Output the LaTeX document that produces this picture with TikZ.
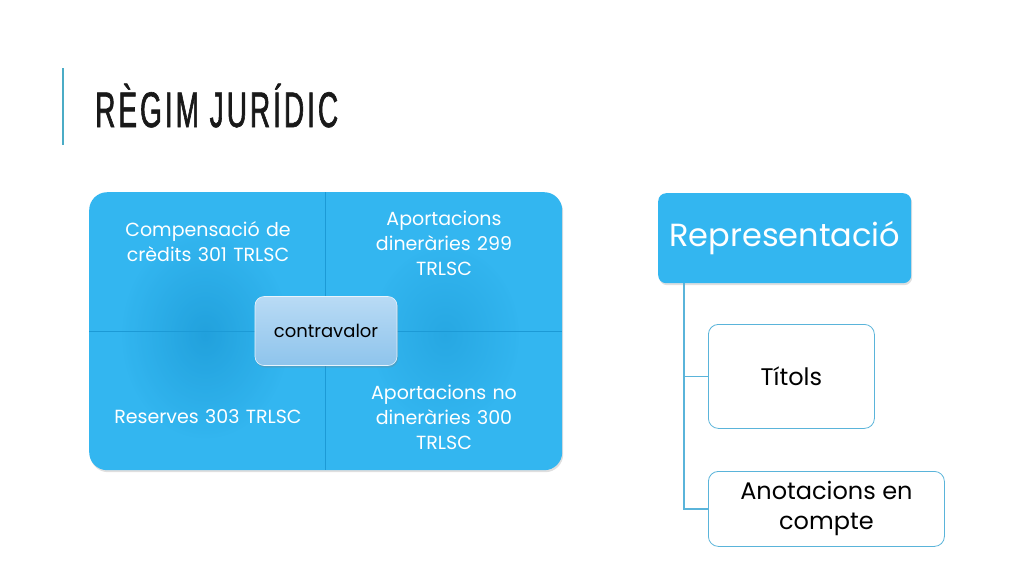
\documentclass[tikz,border=0pt]{standalone}
\usepackage{fontspec}
\setmainfont{Poppins}
\newfontfamily\titlefont{Liberation Sans}[FakeStretch=0.56,LetterSpace=6,FakeBold=1.2]
\usetikzlibrary{positioning,shadows}
\definecolor{mblue}{HTML}{33B6F0}
\definecolor{mdark}{HTML}{1C9AD6}
\definecolor{linec}{HTML}{5AB4DA}
\definecolor{barc}{HTML}{4BACC6}
\definecolor{cvtop}{HTML}{B9DBF5}
\definecolor{cvbot}{HTML}{8EC4EC}
\tikzset{
  qtext/.style={text=white, align=center, font=\fontsize{19}{25}\selectfont, text width=200pt},
  bluebox/.style={fill=mblue, rounded corners=8pt, draw=none},
  whitebox/.style={fill=white, draw=linec, line width=0.8pt, rounded corners=10pt},
  conn/.style={draw=linec, line width=1.2pt},
}
\begin{document}
\begin{tikzpicture}[x=1pt,y=-1pt]
\useasboundingbox (0,0) rectangle (1024,576);
\fill[white] (0,0) rectangle (1024,576);
% title
\draw[barc, line width=2.5pt] (63,68) -- (63,145);
\node[anchor=base west, inner sep=0, text=black!90, font=\titlefont\fontsize{50}{50}\selectfont] (title) at (95,127) {RÈGIM JURÍDIC};
% matrix
\node[bluebox, rounded corners=18pt, minimum width=473pt, minimum height=278pt, anchor=north west, drop shadow={opacity=0.25, shadow xshift=1pt, shadow yshift=-2pt}] (mat) at (89,192) {};
\shade[shading=radial, inner color=mdark, outer color=mblue, opacity=0.75] (205,335) ellipse (85 and 105);
\shade[shading=radial, inner color=mdark, outer color=mblue, opacity=0.5] (445,335) ellipse (75 and 90);
\draw[mdark, line width=0.7pt] (mat.north) -- (mat.south);
\draw[mdark, line width=0.7pt] (mat.west) -- (mat.east);
\node[qtext] (q1) at (208,242) {Compensació de\\crèdits 301 TRLSC};
\node[qtext] (q2) at (444,243) {Aportacions\\dineràries 299\\TRLSC};
\node[qtext] (q3) at (208,417) {Reserves 303 TRLSC};
\node[qtext] (q4) at (444,417) {Aportacions no\\dineràries 300\\TRLSC};
\node[rounded corners=9pt, top color=cvtop, bottom color=cvbot, draw=white!70!cvtop, line width=0.6pt, minimum width=142pt, minimum height=69pt, font=\fontsize{18}{22}\selectfont, text=black, drop shadow={opacity=0.3, shadow xshift=1pt, shadow yshift=-2pt}] (cv) at (326,331) {contravalor};
% hierarchy
\node[bluebox, minimum width=253pt, minimum height=90pt, anchor=north west, text=white, font=\fontsize{32}{40}\selectfont, drop shadow={opacity=0.25, shadow xshift=1pt, shadow yshift=-2pt}] (rep) at (658,193) {Representació};
\node[whitebox, minimum width=166pt, minimum height=104pt, anchor=north west, font=\fontsize{24}{30}\selectfont] (tit) at (708,324) {Títols};
\node[whitebox, minimum width=236pt, minimum height=75pt, anchor=north west, align=center, font=\fontsize{24}{30}\selectfont] (anot) at (708,471) {Anotacions en\\compte};
\coordinate (trunk) at (684,283);
\draw[conn] (trunk) |- (tit.west);
\draw[conn] (trunk) |- (anot.west);
\end{tikzpicture}
\end{document}
